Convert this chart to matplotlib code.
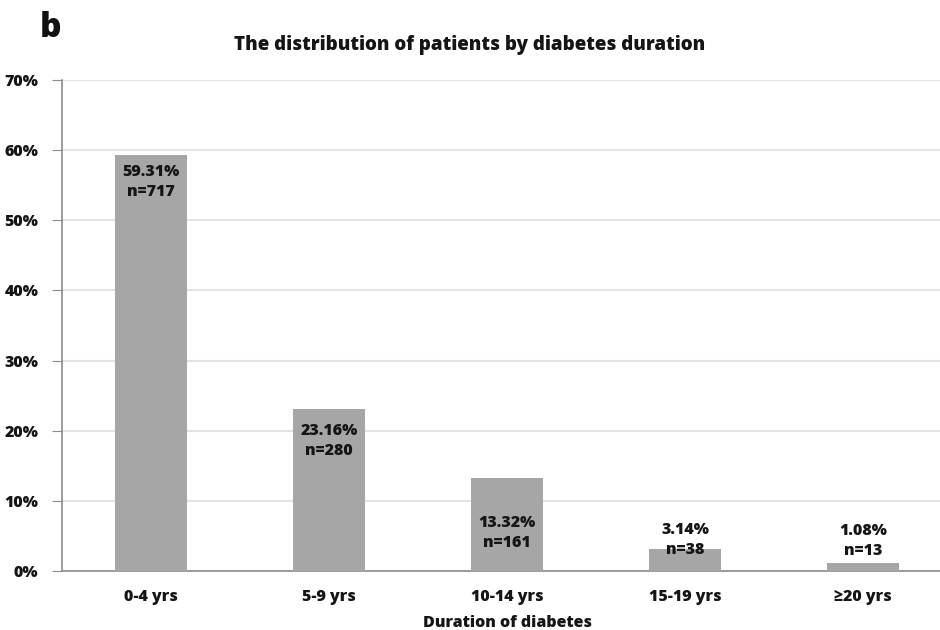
import matplotlib
matplotlib.use("Agg")
import matplotlib.pyplot as plt
from matplotlib.ticker import PercentFormatter

categories = ["0-4 yrs", "5-9 yrs", "10-14 yrs", "15-19 yrs", "≥20 yrs"]
percents = [59.31, 23.16, 13.32, 3.14, 1.08]
counts = [717, 280, 161, 38, 13]

plt.rcParams['font.family'] = ['Open Sans', 'DejaVu Sans']
W = 800
TXT = "#151515"

fig = plt.figure(figsize=(9.4, 6.3), dpi=100)
ax = fig.add_axes([0.066, 0.0937, 0.9468, 0.7793])

x = list(range(len(categories)))
ax.bar(x, percents, width=0.405, color="#a6a6a6", zorder=3)

# label vertical centres (data units), mimicking the original placement
label_y = [55.5, 18.5, 5.4, 4.4, 4.3]
for xi, p, n, ly in zip(x, percents, counts, label_y):
    ax.text(xi, ly, f"{p:.2f}%\nn={n}", ha="center", va="center",
            fontsize=11.5, fontweight=W, color=TXT,
            linespacing=1.3, zorder=4)

ax.set_xlim(-0.5, len(categories) - 0.5)
ax.set_ylim(0, 70)
ax.set_yticks(range(0, 71, 10))
ax.yaxis.set_major_formatter(PercentFormatter(decimals=0))
ax.set_xticks(x)
ax.set_xticklabels(categories)
ax.grid(axis="y", color="#e3e3e3", linewidth=1.5, zorder=0)
ax.set_axisbelow(True)

for s in ["top", "right"]:
    ax.spines[s].set_visible(False)
for s in ["left", "bottom"]:
    ax.spines[s].set_color("#8c8c8c")
    ax.spines[s].set_linewidth(1.2)

ax.tick_params(axis="y", length=7, color="#8c8c8c", labelsize=11.5, pad=10)
ax.tick_params(axis="x", length=0, labelsize=11.5, pad=13)
for lbl in ax.get_xticklabels() + ax.get_yticklabels():
    lbl.set_fontweight(W)
    lbl.set_color(TXT)

ax.set_xlabel("Duration of diabetes", fontsize=11.5, fontweight=W,
              color=TXT, labelpad=7)
fig.text(0.5, 0.928, "The distribution of patients by diabetes duration",
         ha="center", va="center", fontsize=13.5, fontweight=W,
         color=TXT)
fig.text(0.042, 0.955, "b", ha="left", va="center", fontsize=24,
         fontweight=W, color="#111111")

fig.savefig("out.png", dpi=100)
